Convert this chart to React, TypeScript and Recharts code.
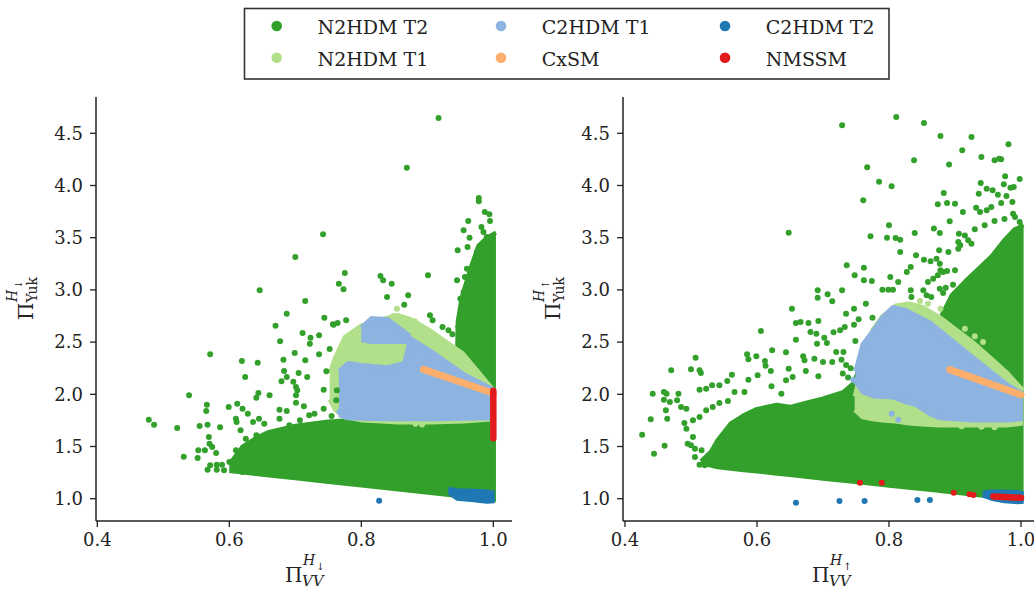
import { ComposedChart, XAxis, YAxis, Scatter, Area, Line } from 'recharts';

const SERIES = ['N2HDM T2', 'N2HDM T1', 'C2HDM T1', 'CxSM', 'C2HDM T2', 'NMSSM'];
const COLORS = ['#33a02c', '#b2df8a', '#8db3e0', '#fdae6b', '#1f78b4', '#e31a1c'];

const X_TICKS = [0.4, 0.6, 0.8, 1.0];
const Y_TICKS = [1.0, 1.5, 2.0, 2.5, 3.0, 3.5, 4.0, 4.5];

// ---------- left panel (H down) ----------
// dense clouds: [x, low, high]
const L_N2T2_BAND = [
  [0.6, 1.265, 1.33], [0.62, 1.25, 1.5], [0.64, 1.236, 1.58], [0.66, 1.222, 1.64],
  [0.7, 1.195, 1.7], [0.75, 1.16, 1.74], [0.8, 1.126, 1.76], [0.943, 1.027, 1.76],
  [0.946, 1.025, 2.7], [0.952, 1.021, 2.93], [0.965, 1.012, 3.2], [0.977, 1.004, 3.42],
  [0.99, 0.995, 3.5], [1.004, 0.985, 3.55],
];
const L_N2T1_BAND = [
  [0.752, 1.95, 2.2], [0.76, 1.85, 2.35], [0.775, 1.78, 2.55], [0.8, 1.75, 2.66],
  [0.83, 1.74, 2.72], [0.855, 1.73, 2.76], [0.875, 1.73, 2.72], [0.904, 1.73, 2.613],
  [0.9545, 1.74, 2.389], [1.002, 1.76, 2.03],
];
const L_C2T1_BAND = [
  [0.766, 1.8, 2.22], [0.78, 1.77, 2.3], [0.8, 1.765, 2.28], [0.84, 1.76, 2.26],
  [0.865, 1.76, 2.3], [0.874, 1.76, 2.54], [0.904, 1.76, 2.42], [0.9545, 1.765, 2.197],
  [1.002, 1.77, 2.04],
];
const L_C2T1_LOBE = [[0.8, 2.52, 2.64], [0.815, 2.5, 2.73], [0.84, 2.5, 2.72], [0.874, 2.5, 2.56]];
const L_C2T2_BAND = [[0.932, 1.06, 1.095], [0.945, 1.0, 1.082], [0.97, 0.985, 1.075], [0.99, 0.97, 1.07], [1.002, 0.975, 1.06]];
const L_CXSM = [[0.894, 2.239], [1.0, 2.01]];
const L_NMSSM = [[1.0, 2.035], [1.0, 1.58]];

// scattered points: [x, y]
const L_N2T2_DOTS = [
  [0.742, 3.533], [0.7, 3.315], [0.646, 2.996], [0.715, 2.894], [0.687, 2.772], [0.744, 2.734],
  [0.67, 2.657], [0.757, 2.67], [0.711, 2.587], [0.723, 2.542], [0.736, 2.565], [0.677, 2.508],
  [0.722, 2.485], [0.752, 2.434], [0.571, 2.383], [0.699, 2.396], [0.736, 2.383], [0.619, 2.319],
  [0.643, 2.303], [0.682, 2.332], [0.715, 2.326], [0.624, 2.166], [0.683, 2.223], [0.705, 2.204],
  [0.718, 2.166], [0.747, 2.22], [0.679, 2.124], [0.687, 2.166], [0.697, 2.121], [0.701, 2.07],
  [0.703, 2.038], [0.743, 2.044], [0.539, 1.99], [0.644, 2.012], [0.641, 1.967], [0.661, 1.99],
  [0.701, 1.99], [0.566, 1.9], [0.565, 1.84], [0.599, 1.878], [0.612, 1.91], [0.62, 1.862],
  [0.628, 1.814], [0.676, 1.853], [0.687, 1.84], [0.701, 1.92], [0.713, 1.885], [0.478, 1.757],
  [0.486, 1.709], [0.521, 1.677], [0.555, 1.696], [0.567, 1.709], [0.586, 1.684], [0.61, 1.766],
  [0.611, 1.735], [0.617, 1.655], [0.636, 1.735], [0.645, 1.766], [0.676, 1.766], [0.531, 1.402],
  [0.553, 1.463], [0.552, 1.39], [0.563, 1.463], [0.567, 1.278], [0.569, 1.591], [0.57, 1.527],
  [0.574, 1.495], [0.58, 1.438], [0.571, 1.32], [0.581, 1.326], [0.589, 1.326], [0.581, 1.278],
  [0.592, 1.272], [0.6, 1.352], [0.605, 1.272], [0.61, 1.463], [0.62, 1.256], [0.628, 1.495],
  [0.625, 1.575], [0.641, 1.607], [0.653, 1.718], [0.663, 1.623], [0.691, 1.703], [0.707, 1.751],
  [0.721, 1.799], [0.729, 1.814], [0.743, 1.862], [0.755, 1.792],
  [0.917, 4.647], [0.869, 4.17], [0.978, 3.88], [0.978, 3.849], [0.987, 3.746], [0.994, 3.724],
  [0.962, 3.66], [0.995, 3.66], [0.982, 3.602], [0.955, 3.571], [0.985, 3.555], [0.964, 3.5],
  [0.99, 3.507], [0.946, 3.379], [0.961, 3.411], [0.975, 3.363], [0.998, 3.283], [0.972, 3.258],
  [0.96, 3.203], [0.965, 3.155], [0.945, 3.092], [0.957, 3.124], [0.962, 3.06], [0.972, 3.06],
  [0.955, 2.98], [0.95, 2.916], [0.96, 2.932], [0.965, 2.963], [0.952, 2.805], [0.95, 2.724],
  [0.947, 2.645], [0.775, 3.162], [0.766, 3.06], [0.773, 3.006], [0.901, 3.14], [0.829, 3.133],
  [0.833, 3.092], [0.846, 3.06], [0.839, 2.932], [0.871, 2.948], [0.865, 2.858], [0.777, 2.709],
  [0.758, 2.667], [0.764, 2.683], [0.904, 2.757], [0.908, 2.709], [0.923, 2.645], [0.932, 2.613],
  [0.938, 2.575], [0.763, 2.038], [0.762, 1.943],
];
const L_N2T1_DOTS = [[0.854, 2.82], [0.8485, 2.75], [0.881, 2.7], [0.882, 1.718], [0.892, 1.71]];
const L_C2T1_DOTS = [[0.767, 1.83]];
const L_C2T2_DOTS = [[0.827, 0.981]];
const L_NMSSM_DOTS: number[][] = [];

// ---------- right panel (H up) ----------
const R_N2T2_BAND = [
  [0.515, 1.335, 1.36], [0.53, 1.317, 1.45], [0.54, 1.3, 1.56], [0.56, 1.287, 1.72],
  [0.58, 1.273, 1.8], [0.6, 1.26, 1.86], [0.63, 1.24, 1.9], [0.65, 1.226, 1.88],
  [0.68, 1.206, 1.93], [0.7, 1.192, 1.96], [0.73, 1.172, 2.02], [0.745, 1.162, 2.1],
  [0.752, 1.157, 2.2], [0.76, 1.152, 1.85], [0.8, 1.125, 1.78],
  [0.875, 1.075, 1.78], [0.88, 1.071, 2.76], [0.895, 1.061, 2.95], [0.915, 1.047, 3.08],
  [0.935, 1.034, 3.2], [0.955, 1.02, 3.32], [0.975, 1.007, 3.48], [0.99, 0.997, 3.58],
  [1.004, 0.987, 3.62],
];
const R_N2T1_BAND = [
  [0.748, 1.85, 1.98], [0.76, 1.78, 2.3], [0.775, 1.76, 2.62], [0.79, 1.75, 2.75],
  [0.81, 1.74, 2.85], [0.83, 1.72, 2.87], [0.85, 1.71, 2.84], [0.877, 1.7, 2.74],
  [0.927, 1.7, 2.5], [0.9526, 1.7, 2.357], [0.978, 1.7, 2.214], [1.003, 1.72, 2.04],
];
const R_C2T1_BAND = [
  [0.749, 2.12, 2.22], [0.76, 2.02, 2.48], [0.776, 1.98, 2.613], [0.79, 1.975, 2.74],
  [0.806, 1.97, 2.836], [0.8265, 1.92, 2.805], [0.84, 1.9, 2.76], [0.862, 1.81, 2.69],
  [0.877, 1.77, 2.613], [0.927, 1.75, 2.357], [0.978, 1.75, 2.1], [1.003, 1.76, 2.006],
];
const R_C2T1_LOBE: number[][] = [];
const R_C2T2_BAND = [[0.942, 1.03, 1.06], [0.955, 1.0, 1.07], [0.975, 0.975, 1.07], [0.995, 0.965, 1.065], [1.004, 0.97, 1.05]];
const R_CXSM = [[0.892, 2.236], [1.0, 1.996]];
const R_NMSSM = [[0.958, 1.022], [1.0, 1.008]];

const R_N2T2_DOTS = [
  [0.648, 3.548], [0.729, 4.577], [0.692, 2.996], [0.692, 2.925], [0.707, 2.958], [0.714, 2.891],
  [0.729, 2.996], [0.653, 2.82], [0.659, 2.683], [0.666, 2.693], [0.678, 2.683], [0.693, 2.702],
  [0.606, 2.606], [0.659, 2.523], [0.681, 2.597], [0.69, 2.581], [0.702, 2.542], [0.706, 2.491],
  [0.716, 2.594], [0.726, 2.613], [0.691, 2.485], [0.72, 2.405], [0.623, 2.421], [0.644, 2.402],
  [0.585, 2.383], [0.587, 2.335], [0.599, 2.364], [0.612, 2.319], [0.613, 2.274], [0.67, 2.364],
  [0.672, 2.326], [0.687, 2.341], [0.7, 2.309], [0.507, 2.351], [0.47, 2.23], [0.5, 2.24],
  [0.513, 2.23], [0.515, 2.204], [0.562, 2.188], [0.601, 2.182], [0.621, 2.223], [0.648, 2.245],
  [0.674, 2.223], [0.693, 2.172], [0.714, 2.309], [0.587, 2.14], [0.555, 2.127], [0.532, 2.086],
  [0.543, 2.086], [0.513, 2.044], [0.523, 2.054], [0.622, 2.077], [0.644, 2.134], [0.654, 2.166],
  [0.442, 2.006], [0.459, 2.022], [0.463, 2.006], [0.459, 1.948], [0.468, 1.926], [0.481, 2.006],
  [0.479, 1.943], [0.462, 1.847], [0.464, 1.766], [0.485, 1.878], [0.493, 1.862], [0.439, 1.76],
  [0.426, 1.613], [0.444, 1.431], [0.46, 1.508], [0.49, 1.725], [0.493, 1.671], [0.503, 1.751],
  [0.513, 1.783], [0.503, 1.591], [0.495, 1.527], [0.5, 1.511], [0.506, 1.479], [0.506, 1.4],
  [0.513, 1.326], [0.521, 1.32], [0.531, 1.335], [0.516, 1.463], [0.538, 1.431], [0.523, 1.847],
  [0.533, 1.878], [0.543, 1.917], [0.556, 1.936], [0.566, 2.022], [0.581, 2.022], [0.637, 2.006],
  [0.811, 4.656], [0.853, 4.599], [0.878, 4.474], [0.925, 4.465], [0.981, 4.395], [0.911, 4.337],
  [0.94, 4.273], [0.96, 4.241], [0.967, 4.257], [0.97, 4.251], [0.838, 4.241], [0.891, 4.2],
  [0.767, 4.174], [0.976, 4.088], [0.998, 4.062], [0.785, 4.037], [0.804, 3.992], [0.939, 4.024],
  [0.948, 3.969], [0.957, 3.954], [0.974, 4.011], [0.984, 3.979], [0.989, 3.986], [0.936, 3.921],
  [0.965, 3.912], [0.978, 3.9], [0.987, 3.842], [0.883, 3.928], [0.761, 3.858], [0.874, 3.82],
  [0.888, 3.832], [0.9, 3.826], [0.932, 3.787], [0.938, 3.746], [0.948, 3.762], [0.955, 3.794],
  [0.97, 3.832], [0.912, 3.746], [0.988, 3.73], [0.991, 3.698], [0.998, 3.65], [0.892, 3.657],
  [0.8, 3.619], [0.772, 3.513], [0.797, 3.5], [0.81, 3.497], [0.817, 3.481], [0.839, 3.545],
  [0.868, 3.587], [0.877, 3.545], [0.906, 3.538], [0.92, 3.475], [0.925, 3.443], [0.817, 3.363],
  [0.736, 3.236], [0.762, 3.213], [0.841, 3.331], [0.853, 3.289], [0.863, 3.274], [0.872, 3.299],
  [0.876, 3.379], [0.89, 3.363], [0.905, 3.395], [0.908, 3.427], [0.877, 3.251], [0.878, 3.188],
  [0.833, 3.219], [0.827, 3.171], [0.748, 3.14], [0.762, 3.092], [0.774, 3.085], [0.802, 3.124],
  [0.814, 3.076], [0.79, 3.002], [0.799, 3.002], [0.806, 3.002], [0.833, 2.996], [0.834, 2.932],
  [0.859, 3.076], [0.867, 3.107], [0.874, 3.14], [0.882, 3.171], [0.888, 3.181], [0.9, 3.188],
  [0.852, 2.996], [0.857, 2.948], [0.864, 2.932], [0.735, 2.772], [0.747, 2.82], [0.754, 2.718],
  [0.765, 2.868], [0.775, 2.734], [0.733, 2.645], [0.747, 2.667], [0.749, 2.511], [0.731, 2.405],
  [0.877, 3.01], [0.882, 2.97], [0.886, 3.02], [0.897, 3.05], [0.9, 2.95], [0.905, 2.92],
  [0.905, 3.46], [0.915, 3.52], [0.93, 3.58], [0.945, 3.62], [0.96, 3.66], [0.975, 3.68],
  [0.728, 2.33], [0.735, 2.28], [0.742, 2.25], [0.73, 2.2], [0.738, 2.16],
];
const R_N2T1_DOTS = [
  [0.847, 2.894], [0.859, 2.868], [0.878, 2.82], [0.915, 2.628], [0.93, 2.555], [0.9425, 2.5],
  [0.94, 1.69], [0.96, 1.685], [0.91, 1.695],
];
const R_C2T1_DOTS = [[0.746, 2.137], [0.804, 1.814], [0.814, 1.757]];
const R_C2T2_DOTS = [[0.659, 0.962], [0.725, 0.978], [0.763, 0.978], [0.843, 0.987], [0.862, 0.987]];
const R_NMSSM_DOTS = [[0.756, 1.152], [0.789, 1.152], [0.898, 1.056], [0.922, 1.042], [0.928, 1.035]];

const FONT = "'DejaVu Serif', serif";
const INK = '#222';
const Y_DOMAIN = [0.7864, 4.8477];

const pts = (rows: number[][]) => rows.map(([x, y]) => ({ x, y }));
const band = (rows: number[][]) => rows.map(([x, lo, hi]) => ({ x, lo, hi }));
const rangeKey = (d: any) => [d.lo, d.hi];
const dot = (color: string) => (p: any) => <circle cx={p.cx} cy={p.cy} r={3} fill={color} />;

function Panel({ left, xDomain, arrow, d }: any) {
  const areaProps = (color: string) => ({
    type: 'linear' as const,
    stroke: color,
    strokeWidth: 4,
    strokeLinejoin: 'round' as const,
    fill: color,
    fillOpacity: 1,
    dot: false,
    activeDot: false,
    isAnimationActive: false,
  });
  const lineProps = (color: string, w: number) => ({
    type: 'linear' as const,
    dataKey: 'y',
    stroke: color,
    strokeWidth: w,
    strokeLinecap: 'round' as const,
    dot: false,
    activeDot: false,
    isAnimationActive: false,
  });
  const axisLine = { stroke: INK, strokeWidth: 1.5 };
  const tickStyle = { fill: INK, fontSize: 18, fontFamily: FONT };
  return (
    <div style={{ position: 'absolute', left, top: 0, width: 520, height: 589 }}>
      <ComposedChart width={520} height={589} margin={{ top: 97, right: 8, bottom: 38, left: 40 }}>
        <XAxis
          type="number"
          dataKey="x"
          domain={xDomain}
          ticks={X_TICKS}
          allowDataOverflow
          height={30}
          tickSize={6}
          tickMargin={6}
          tickFormatter={(v: number) => v.toFixed(1)}
          axisLine={axisLine}
          tickLine={{ stroke: INK, strokeWidth: 1.3 }}
          tick={tickStyle}
        />
        <XAxis xAxisId="top" orientation="top" type="number" domain={xDomain} allowDataOverflow height={0} tick={false} tickLine={false} axisLine={axisLine} />
        <YAxis
          type="number"
          dataKey="y"
          domain={Y_DOMAIN}
          ticks={Y_TICKS}
          allowDataOverflow
          width={56}
          tickSize={6}
          tickMargin={7}
          tickFormatter={(v: number) => v.toFixed(1)}
          axisLine={axisLine}
          tickLine={{ stroke: INK, strokeWidth: 1.3 }}
          tick={tickStyle}
        />
        <YAxis yAxisId="right" orientation="right" type="number" domain={Y_DOMAIN} allowDataOverflow width={0} tick={false} tickLine={false} axisLine={axisLine} />

        <Area data={band(d.n2t2Band)} dataKey={rangeKey} {...areaProps(COLORS[0])} />
        <Area data={band(d.n2t1Band)} dataKey={rangeKey} {...areaProps(COLORS[1])} />
        <Area data={band(d.c2t1Band)} dataKey={rangeKey} {...areaProps(COLORS[2])} />
        {d.c2t1Lobe.length > 0 && <Area data={band(d.c2t1Lobe)} dataKey={rangeKey} {...areaProps(COLORS[2])} />}
        <Area data={band(d.c2t2Band)} dataKey={rangeKey} {...areaProps(COLORS[4])} />

        <Line data={pts(d.cxsm)} {...lineProps(COLORS[3], 7)} />
        <Line data={pts(d.nmssm)} {...lineProps(COLORS[5], 6.5)} />

        <Scatter data={pts(d.n2t2Dots)} shape={dot(COLORS[0])} isAnimationActive={false} />
        <Scatter data={pts(d.n2t1Dots)} shape={dot(COLORS[1])} isAnimationActive={false} />
        <Scatter data={pts(d.c2t1Dots)} shape={dot(COLORS[2])} isAnimationActive={false} />
        <Scatter data={pts(d.c2t2Dots)} shape={dot(COLORS[4])} isAnimationActive={false} />
        <Scatter data={pts(d.nmssmDots)} shape={dot(COLORS[5])} isAnimationActive={false} />
      </ComposedChart>

      <svg width={520} height={589} style={{ position: 'absolute', left: 0, top: 0, pointerEvents: 'none' }}>
        {/* x label: Pi^{H arrow}_{VV} */}
        <g fill={INK} fontFamily={FONT}>
          <text x={285} y={582} fontSize={20}>Π</text>
          <text x={303} y={565} fontSize={14} fontStyle="italic">H</text>
          <text x={316} y={570} fontSize={10}>{arrow}</text>
          <text x={302} y={586} fontSize={15} fontStyle="italic">VV</text>
        </g>
        {/* y label: Pi^{H arrow}_{Yuk} */}
        <g fill={INK} fontFamily={FONT} transform="translate(33.3,320) rotate(-90)">
          <text x={0} y={0} fontSize={20}>Π</text>
          <text x={18} y={-16.6} fontSize={14} fontStyle="italic">H</text>
          <text x={31} y={-11.5} fontSize={10}>{arrow}</text>
          <text x={17.5} y={4} fontSize={14}>Yuk</text>
        </g>
      </svg>
    </div>
  );
}

const LEFT = {
  n2t2Band: L_N2T2_BAND, n2t1Band: L_N2T1_BAND, c2t1Band: L_C2T1_BAND, c2t1Lobe: L_C2T1_LOBE,
  c2t2Band: L_C2T2_BAND, cxsm: L_CXSM, nmssm: L_NMSSM, n2t2Dots: L_N2T2_DOTS, n2t1Dots: L_N2T1_DOTS,
  c2t1Dots: L_C2T1_DOTS, c2t2Dots: L_C2T2_DOTS, nmssmDots: L_NMSSM_DOTS,
};
const RIGHT = {
  n2t2Band: R_N2T2_BAND, n2t1Band: R_N2T1_BAND, c2t1Band: R_C2T1_BAND, c2t1Lobe: R_C2T1_LOBE,
  c2t2Band: R_C2T2_BAND, cxsm: R_CXSM, nmssm: R_NMSSM, n2t2Dots: R_N2T2_DOTS, n2t1Dots: R_N2T1_DOTS,
  c2t1Dots: R_C2T1_DOTS, c2t2Dots: R_C2T2_DOTS, nmssmDots: R_NMSSM_DOTS,
};

// legend: three columns, two rows, in the figure's order
const LEGEND_COL_X = [276.7, 501, 725];
const LEGEND_ROW_Y = [26, 57.7];

function LegendBox() {
  return (
    <svg width={1034} height={589} style={{ position: 'absolute', left: 0, top: 0, pointerEvents: 'none' }}>
      <rect x={244.5} y={8.5} width={644.5} height={70.5} fill="#fff" stroke="#333" strokeWidth={1.6} />
      {SERIES.map((name, i) => {
        const cx = LEGEND_COL_X[Math.floor(i / 2)];
        const cy = LEGEND_ROW_Y[i % 2];
        return (
          <g key={name}>
            <circle cx={cx} cy={cy} r={5.3} fill={COLORS[i]} />
            <text x={cx + 40.8} y={cy + 8} fontSize={19} fontFamily={FONT} fill={INK}>{name}</text>
          </g>
        );
      })}
    </svg>
  );
}

export default function App() {
  return (
    <div style={{ position: 'absolute', left: 0, top: 0, width: 1034, height: 589, overflow: 'hidden', background: '#fff' }}>
      <Panel left={0} xDomain={[0.398, 1.0283]} arrow="↓" d={LEFT} />
      <Panel left={527} xDomain={[0.397, 1.0273]} arrow="↑" d={RIGHT} />
      <LegendBox />
    </div>
  );
}
